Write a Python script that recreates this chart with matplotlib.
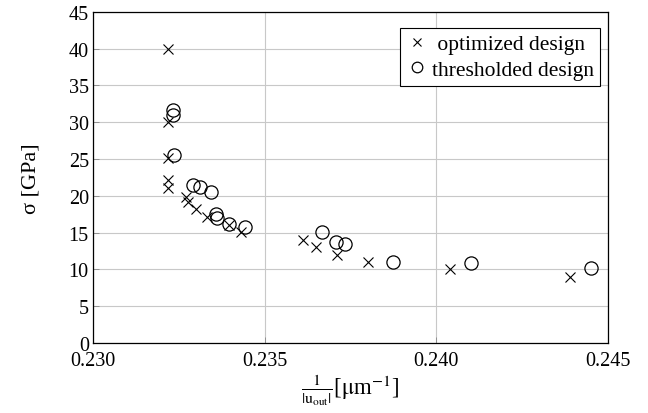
import matplotlib
matplotlib.use("Agg")
import matplotlib.pyplot as plt

# optimized design
opt_x = [0.23219, 0.23219, 0.23219, 0.23219, 0.23219, 0.23272, 0.23277, 0.23299,
         0.23331, 0.23395, 0.23432, 0.23611, 0.23650, 0.23710, 0.23800, 0.24041, 0.24390]
opt_y = [40.0, 30.0, 25.2, 22.1, 21.1, 19.9, 19.1, 18.2,
         17.1, 16.0, 15.1, 14.0, 13.0, 12.0, 11.0, 10.0, 9.0]

# thresholded design
thr_x = [0.23233, 0.23233, 0.23235, 0.23290, 0.23313, 0.23343, 0.23358, 0.23362,
         0.23395, 0.23444, 0.23667, 0.23708, 0.23735, 0.23873, 0.24101, 0.24450]
thr_y = [31.6, 31.0, 25.6, 21.5, 21.2, 20.5, 17.5, 17.0,
         16.2, 15.8, 15.1, 13.7, 13.5, 11.0, 10.9, 10.2]

plt.rcParams['font.family'] = ['Liberation Serif', 'DejaVu Serif']
plt.rcParams['mathtext.fontset'] = 'stix'
plt.rcParams['font.size'] = 14.5

fig, ax = plt.subplots(figsize=(6.48, 4.14), dpi=100)
fig.subplots_adjust(left=0.1435, right=0.938, top=0.969, bottom=0.169)

ax.plot(opt_x, opt_y, 'x', color='black', ms=6.5, mew=0.8, label=' optimized design')
ax.plot(thr_x, thr_y, 'o', color='black', mfc='none', ms=9.5, mew=0.9, label='thresholded design')

ax.set_xlim(0.230, 0.245)
ax.set_ylim(0, 45)
ax.set_xticks([0.230, 0.235, 0.240, 0.245])
ax.set_xticklabels(['0.230', '0.235', '0.240', '0.245'])
ax.set_yticks(range(0, 46, 5))
ax.grid(True, color='#c8c8c8', linewidth=0.8)
ax.set_axisbelow(True)
ax.tick_params(direction='in', length=4, width=0.6, color='#888888')
ax.tick_params(axis='x', pad=6)
ax.tick_params(axis='y', pad=3)
for s in ax.spines.values():
    s.set_linewidth(0.9)

ax.set_ylabel('σ [GPa]', labelpad=20, fontsize=16)
ax.set_xlabel(r'$\frac{1}{|\mathrm{u}_{\mathrm{out}}|}$[$\mathrm{\mu}$m$^{-1}$]',
              labelpad=1, fontsize=16.5)

leg = ax.legend(loc='upper right', bbox_to_anchor=(0.985, 0.952), fancybox=False,
                edgecolor='black', framealpha=1, fontsize=15.5, handlelength=0.9,
                handletextpad=0.25, borderpad=0.3, labelspacing=0.25, borderaxespad=0,
                markerscale=0.8)
leg.get_frame().set_linewidth(0.8)

fig.savefig('out.png', dpi=100)
